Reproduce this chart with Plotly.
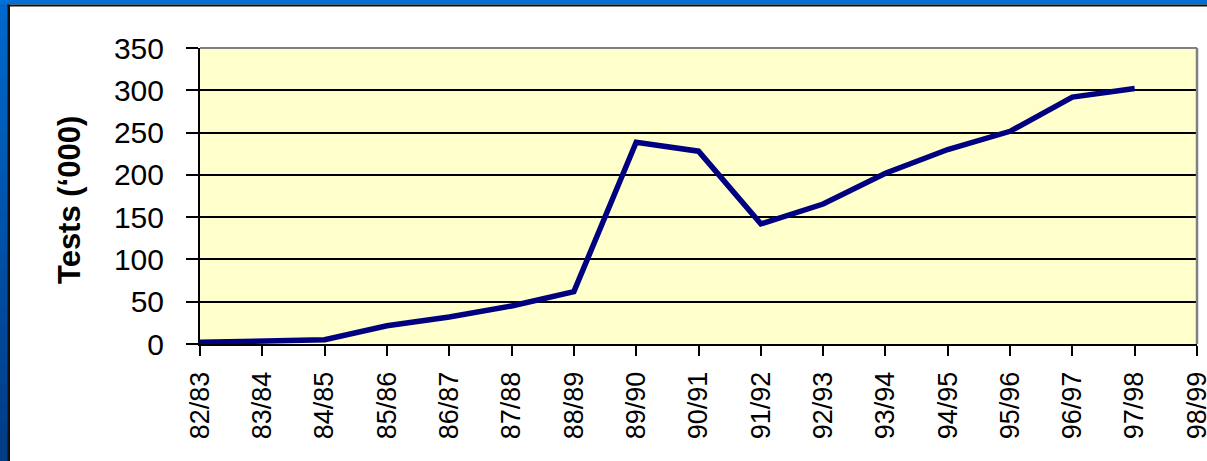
import plotly.graph_objects as go

# ---- data ----
categories = ["82/83", "83/84", "84/85", "85/86", "86/87", "87/88", "88/89", "89/90",
              "90/91", "91/92", "92/93", "93/94", "94/95", "95/96", "96/97", "97/98", "98/99"]
tests_thousands = [2, 4, 5, 21.5, 32, 45, 62, 238.5, 228, 142, 165.5, 202, 230, 251.5, 292, 302, None]
y_ticks = [0, 50, 100, 150, 200, 250, 300, 350]
y_title = "Tests (‘000)"

# ---- layout geometry (pixels) ----
W, H = 1207, 461
L, R, T, B = 200, 10, 48, 117
PW, PH = W - L - R, H - T - B


def xp(px):
    return (px - L) / PW


def yp(py):
    return (H - B - py) / PH


fig = go.Figure()
fig.add_trace(go.Scatter(
    x=categories, y=tests_thousands, mode="lines",
    line=dict(color="#000080", width=5.5), connectgaps=False,
    hoverinfo="x+y", showlegend=False,
))

shapes = []
# left blue strip with vertical gradient (approximated by bands)
n = 24
top_rgb = (0, 104, 204)
bot_rgb = (0, 60, 135)
for i in range(n):
    f = i / (n - 1)
    c = tuple(round(top_rgb[k] + (bot_rgb[k] - top_rgb[k]) * f) for k in range(3))
    y0 = H * i / n
    y1 = H * (i + 1) / n + 1
    shapes.append(dict(type="rect", xref="paper", yref="paper",
                       x0=xp(0), x1=xp(8), y0=yp(y1), y1=yp(y0),
                       fillcolor="rgb(%d,%d,%d)" % c, line=dict(width=0), layer="below"))
# top blue strip
shapes.append(dict(type="rect", xref="paper", yref="paper",
                   x0=xp(0), x1=xp(W), y0=yp(4.5), y1=yp(0),
                   fillcolor="#0070d4", line=dict(width=0), layer="below"))
# black inner edges
shapes.append(dict(type="rect", xref="paper", yref="paper",
                   x0=xp(7.5), x1=xp(10), y0=yp(H), y1=yp(4.5),
                   fillcolor="#101010", line=dict(width=0), layer="below"))
shapes.append(dict(type="rect", xref="paper", yref="paper",
                   x0=xp(7.5), x1=xp(W), y0=yp(6.5), y1=yp(4.5),
                   fillcolor="#101010", line=dict(width=0), layer="below"))
# plot-area border: grey top and right
shapes.append(dict(type="line", xref="paper", yref="paper", x0=0, x1=1, y0=1, y1=1,
                   line=dict(color="#808080", width=2)))
shapes.append(dict(type="line", xref="paper", yref="paper", x0=1, x1=1, y0=0, y1=1,
                   line=dict(color="#808080", width=2.5)))

fig.update_layout(
    width=W, height=H,
    margin=dict(l=L, r=R, t=T, b=B, autoexpand=False),
    paper_bgcolor="white",
    plot_bgcolor="#FFFFCC",
    font=dict(family="Liberation Sans, Arial, sans-serif", color="black"),
    shapes=shapes,
    xaxis=dict(
        type="category", categoryorder="array", categoryarray=categories,
        range=[0, len(categories) - 1],
        tickmode="array", tickvals=categories, ticktext=categories,
        tickangle=-90, tickfont=dict(size=27),
        ticks="outside", ticklen=10, tickwidth=2, tickcolor="black",
        showline=True, linecolor="black", linewidth=2,
        showgrid=False, zeroline=False, automargin=False,
        ticklabelstandoff=5,
    ),
    yaxis=dict(
        range=[0, 350], tickmode="array", tickvals=y_ticks,
        tickfont=dict(size=30),
        ticks="outside", ticklen=12, tickwidth=2, tickcolor="black",
        showline=True, linecolor="black", linewidth=2,
        showgrid=True, gridcolor="black", gridwidth=1.5,
        zeroline=False, automargin=False,
        ticklabelstandoff=16,
    ),
    annotations=[dict(
        text="<b>" + y_title + "</b>", textangle=-90,
        xref="paper", yref="paper", x=xp(69), y=yp(200),
        xanchor="center", yanchor="middle", showarrow=False,
        font=dict(size=31, color="black", family="Liberation Sans, Arial, sans-serif"),
    )],
)

fig.write_html("out.html",
               config={"displayModeBar": False},
               post_script="document.body.style.margin='0';document.body.style.overflow='hidden';")
